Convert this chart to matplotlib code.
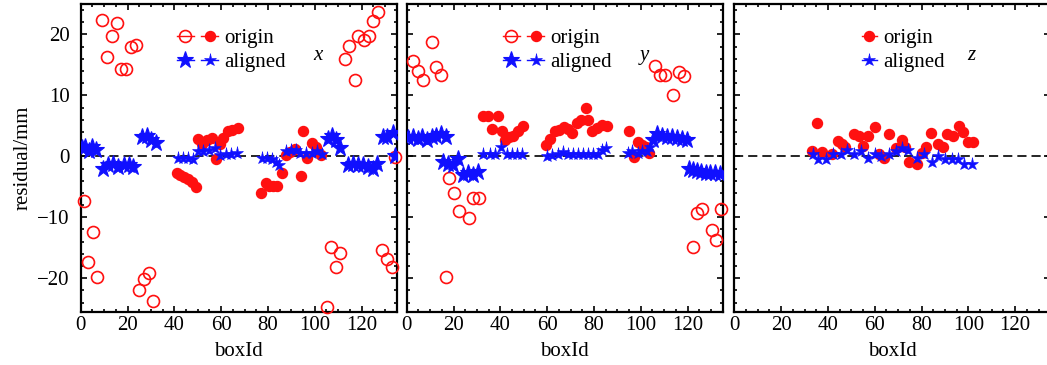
import numpy as np
import matplotlib
matplotlib.use('Agg')
import matplotlib.pyplot as plt
from matplotlib.lines import Line2D
from matplotlib.legend_handler import HandlerTuple
from matplotlib.ticker import MultipleLocator

plt.rcParams['font.family'] = 'serif'
plt.rcParams['font.serif'] = ['Liberation Serif', 'DejaVu Serif']

RED = '#ff1010'
BLUE = '#1010ff'
FS = 15

# ── panel x ───────────────────────────────────────────────────────────────────
x_open_id = [1.5, 3.0, 5.4, 7.1, 9.2, 11.1, 13.5, 15.4, 17.2, 19.2, 21.5, 23.5,
             25.1, 27.1, 29.3, 31.0, 105.1, 107.0, 109.1, 110.8, 113.0, 114.8,
             117.2, 118.6, 121.1, 123.2, 124.8, 127.2, 128.9, 130.8, 132.9, 134.3]
x_open_val = [-7.3, -17.4, -12.5, -19.8, 22.4, 16.3, 19.8, 21.8, 14.4, 14.3, 17.9, 18.2,
              -21.9, -20.2, -19.1, -23.8, -24.7, -14.9, -18.1, -15.8, 16.0, 18.1,
              12.5, 19.8, 19.1, 19.8, 22.2, 23.7, -15.4, -16.8, -18.1, -0.1]
x_fill_id = [41.0, 42.4, 44.3, 46.0, 47.4, 49.3, 50.0, 52.0, 54.1, 56.0, 57.8, 59.5,
             61.0, 62.8, 64.8, 67.1, 77.1, 79.1, 80.6, 82.0, 83.8, 85.9, 87.7, 89.4,
             91.5, 94.1, 94.9, 96.6, 98.7, 100.6, 102.7]
x_fill_val = [-2.8, -3.1, -3.4, -3.7, -4.2, -5.0, 2.9, 2.0, 2.7, 3.0, -0.5, 2.1,
              3.0, 4.2, 4.3, 4.7, -6.0, -4.3, -4.8, -4.9, -4.9, -2.7, 0.2, 0.7,
              1.2, -3.3, 4.2, -0.2, 2.2, 1.5, 0.2]
x_big_id = [0.4, 1.8, 3.5, 5.0, 6.5, 9.7, 11.8, 13.9, 16.1, 18.5, 20.8, 22.5,
            26.1, 28.2, 30.1, 32.0, 105.8, 107.5, 109.1, 110.8, 114.4, 116.3,
            118.3, 120.5, 122.6, 124.7, 126.5, 129.0, 131.0, 133.3, 134.3]
x_big_val = [1.3, 1.5, 0.9, 1.6, 1.0, -2.0, -1.5, -1.3, -1.7, -1.5, -1.5, -1.7,
             3.2, 3.4, 2.7, 2.2, 2.9, 3.3, 2.6, 1.4, -1.5, -1.2,
             -1.4, -1.5, -1.8, -2.0, -1.2, 3.2, 3.1, 3.8, 0.0]
x_small_id = [41.7, 43.8, 46.0, 48.1, 50.3, 52.4, 55.0, 57.4, 59.5, 62.1, 64.2, 66.9,
              77.3, 79.4, 81.6, 83.5, 84.9, 87.8, 89.8, 91.9, 93.7, 96.3, 98.7,
              100.8, 103.0]
x_small_val = [-0.2, -0.2, -0.3, -0.5, 0.8, 0.8, 1.0, 1.3, 0.2, 0.4, 0.4, 0.6,
               -0.2, -0.3, -0.4, -1.0, -1.5, 0.8, 1.0, 1.1, 0.5, 0.5, 0.6,
               0.8, 0.4]

# ── panel y ───────────────────────────────────────────────────────────────────
y_open_id = [2.8, 4.7, 6.8, 10.7, 12.5, 14.7, 16.7, 18.2, 20.3, 22.5, 26.6, 28.5,
             31.0, 106.1, 108.2, 110.4, 113.9, 116.5, 118.6, 122.2, 124.2, 126.3,
             130.3, 132.2, 134.3]
y_open_val = [15.7, 14.0, 12.6, 18.7, 14.6, 13.3, -19.8, -3.5, -6.0, -8.9, -10.2, -6.8,
              -6.8, 14.9, 13.3, 13.4, 10.0, 13.8, 13.2, -14.8, -9.3, -8.7,
              -12.1, -13.7, -8.7]
y_fill_id = [32.7, 34.9, 36.6, 38.9, 40.6, 42.0, 43.7, 45.6, 47.4, 49.6, 59.4, 61.2,
             63.4, 65.2, 67.2, 68.8, 70.5, 72.6, 74.5, 76.5, 77.6, 79.1, 81.2, 83.3,
             85.5, 95.1, 97.3, 99.0, 100.7, 102.1, 103.5]
y_fill_val = [6.6, 6.6, 4.5, 6.6, 4.2, 2.6, 3.1, 3.4, 4.1, 5.0, 1.9, 2.9,
              4.2, 4.4, 4.8, 4.5, 3.8, 5.5, 6.0, 8.0, 5.9, 4.1, 4.6, 5.1,
              4.9, 4.1, -0.1, 2.3, 1.9, 1.5, 0.5]
y_big_id = [0.7, 2.7, 4.7, 6.7, 8.7, 10.7, 12.7, 14.7, 16.7,
            15.6, 17.8, 19.9, 22.1, 24.2, 26.3, 28.5, 30.6,
            105.4, 106.8, 109.0, 111.1, 113.2, 115.4, 117.5, 119.6,
            120.4, 122.2, 124.0, 125.8, 127.8, 129.7, 131.5, 133.9]
y_big_val = [3.0, 3.2, 2.9, 3.1, 2.6, 3.2, 3.4, 3.7, 3.1,
             -0.9, -1.2, -1.5, -0.5, -3.1, -2.8, -3.1, -2.5,
             2.7, 3.6, 3.4, 3.2, 3.1, 3.0, 2.9, 2.6,
             -2.0, -2.3, -2.4, -2.5, -2.7, -2.7, -2.8, -2.9]
y_small_id = [32.7, 35.5, 37.7, 40.3, 42.7, 44.9, 47.0, 49.1, 59.8, 61.9, 64.8, 66.9,
              69.0, 71.2, 73.3, 75.5, 77.6, 79.8, 81.9, 83.6, 85.0, 94.7, 96.4,
              98.7, 100.7, 102.6, 104.0]
y_small_val = [0.3, 0.4, 0.3, 1.5, 0.3, 0.3, 0.3, 0.3, 0.0, 0.2, 0.3, 0.7,
               0.3, 0.3, 0.4, 0.3, 0.3, 0.3, 0.4, 1.1, 1.4, 0.6, 0.8,
               0.6, 0.8, 0.8, 1.5]

# ── panel z ───────────────────────────────────────────────────────────────────
z_fill_id = [33.3, 35.2, 37.3, 41.9, 44.2, 45.9, 47.3, 51.1, 53.3, 55.1, 57.0, 60.1,
             61.8, 64.1, 66.1, 69.0, 71.5, 72.9, 74.8, 77.9, 80.1, 81.9, 84.1, 87.2,
             89.3, 90.8, 93.3, 96.2, 97.9, 100.0, 102.1]
z_fill_val = [0.9, 5.4, 0.7, 0.4, 2.5, 2.0, 1.5, 3.6, 3.4, 1.7, 3.3, 4.8,
              0.4, -0.2, 3.7, 1.3, 2.7, 1.5, -0.9, -1.3, 0.5, 1.5, 3.8, 2.0,
              1.5, 3.6, 3.3, 4.9, 4.0, 2.3, 2.3]
z_star_id = [33.8, 35.6, 39.2, 42.3, 45.6, 48.0, 51.3, 54.2, 57.3, 60.1, 62.7, 66.1,
             69.1, 71.5, 74.4, 77.9, 81.2, 84.3, 87.2, 90.0, 92.9, 95.7, 98.3, 101.4]
z_star_val = [0.3, -0.4, -0.5, 0.4, 0.3, 1.1, 0.3, 0.8, -0.2, 0.3, 0.0, 0.4,
              0.8, 1.3, 1.1, -0.2, 0.3, -0.9, 0.0, -0.5, -0.5, -0.4, -1.3, -1.2]

W, H = 1047, 365
fig = plt.figure(figsize=(W / 100, H / 100), dpi=100)
fig.patch.set_facecolor('white')

lefts = [80.7, 406.7, 734.3]
axw, bot, axh = 316.0, 53.3, 307.7
axes = [fig.add_axes([l / W, bot / H, axw / W, axh / H]) for l in lefts]

OPEN = dict(ls='none', marker='o', ms=8.6, mfc='none', mec=RED, mew=1.2)
FILL = dict(ls='none', marker='o', ms=7.2, color=RED, mec=RED)
BIG = dict(ls='none', marker='*', ms=12.5, color=BLUE, mec=BLUE, mew=0.8)
SMALL = dict(ls='none', marker='*', ms=9.5, color=BLUE, mec=BLUE, mew=0.4)

panels = [
    ('x', x_open_id, x_open_val, x_fill_id, x_fill_val, x_big_id, x_big_val, x_small_id, x_small_val),
    ('y', y_open_id, y_open_val, y_fill_id, y_fill_val, y_big_id, y_big_val, y_small_id, y_small_val),
    ('z', [], [], z_fill_id, z_fill_val, [], [], z_star_id, z_star_val),
]

for ax, (name, oi, ov, fi, fv, bi, bv, si, sv) in zip(axes, panels):
    ax.axhline(0, color='black', lw=1.2, ls=(0, (5.5, 3)), zorder=1)
    if oi:
        ax.plot(oi, ov, clip_on=False, zorder=3, **OPEN)
    ax.plot(fi, fv, zorder=3, **FILL)
    if bi:
        ax.plot(bi, bv, zorder=4, **BIG)
    ax.plot(si, sv, zorder=4, **SMALL)

    ax.set_xlim(0, 135)
    ax.set_ylim(-25.5, 25)
    ax.xaxis.set_major_locator(MultipleLocator(20))
    ax.xaxis.set_minor_locator(MultipleLocator(5))
    ax.yaxis.set_major_locator(MultipleLocator(10))
    ax.yaxis.set_minor_locator(MultipleLocator(2))
    ax.tick_params(which='both', direction='in', top=True, right=True,
                   labelsize=FS, width=1.2)
    ax.tick_params(axis='x', pad=3)
    ax.tick_params(axis='y', pad=8)
    ax.tick_params(which='major', length=4.3)
    ax.tick_params(which='minor', length=2.4)
    for s in ax.spines.values():
        s.set_linewidth(1.6)
    ax.set_xlabel('boxId', fontsize=FS, labelpad=5)
    ax.text(0.751, 0.834, name, transform=ax.transAxes, fontsize=FS,
            style='italic', ha='center', va='center')

    # legend
    lo = Line2D([], [], color=RED, marker='o', ms=8.6, mfc='none', mew=1.2, lw=1)
    lf = Line2D([], [], color=RED, marker='o', ms=7.2, lw=1)
    lb = Line2D([], [], color=BLUE, marker='*', ms=12.5, mew=0.8, lw=1)
    ls_ = Line2D([], [], color=BLUE, marker='*', ms=9.5, mew=0.4, lw=1)
    if name == 'z':
        handles = [lf, ls_]
        hl, x0 = 0.75, 0.403
    else:
        handles = [(lo, lf), (lb, ls_)]
        hl, x0 = 2.0, 0.304
    ax.legend(handles, ['origin', 'aligned'], loc='upper left',
              bbox_to_anchor=(x0, 0.92), frameon=False, fontsize=FS,
              handlelength=hl, handletextpad=0.3, labelspacing=0.2,
              borderpad=0, borderaxespad=0,
              handler_map={tuple: HandlerTuple(ndivide=None, pad=0.35)})

for ax in axes[1:]:
    ax.tick_params(labelleft=False)
axes[0].set_ylabel('residual/mm', fontsize=FS, labelpad=3)

plt.savefig('out.png', dpi=100, facecolor='white')
